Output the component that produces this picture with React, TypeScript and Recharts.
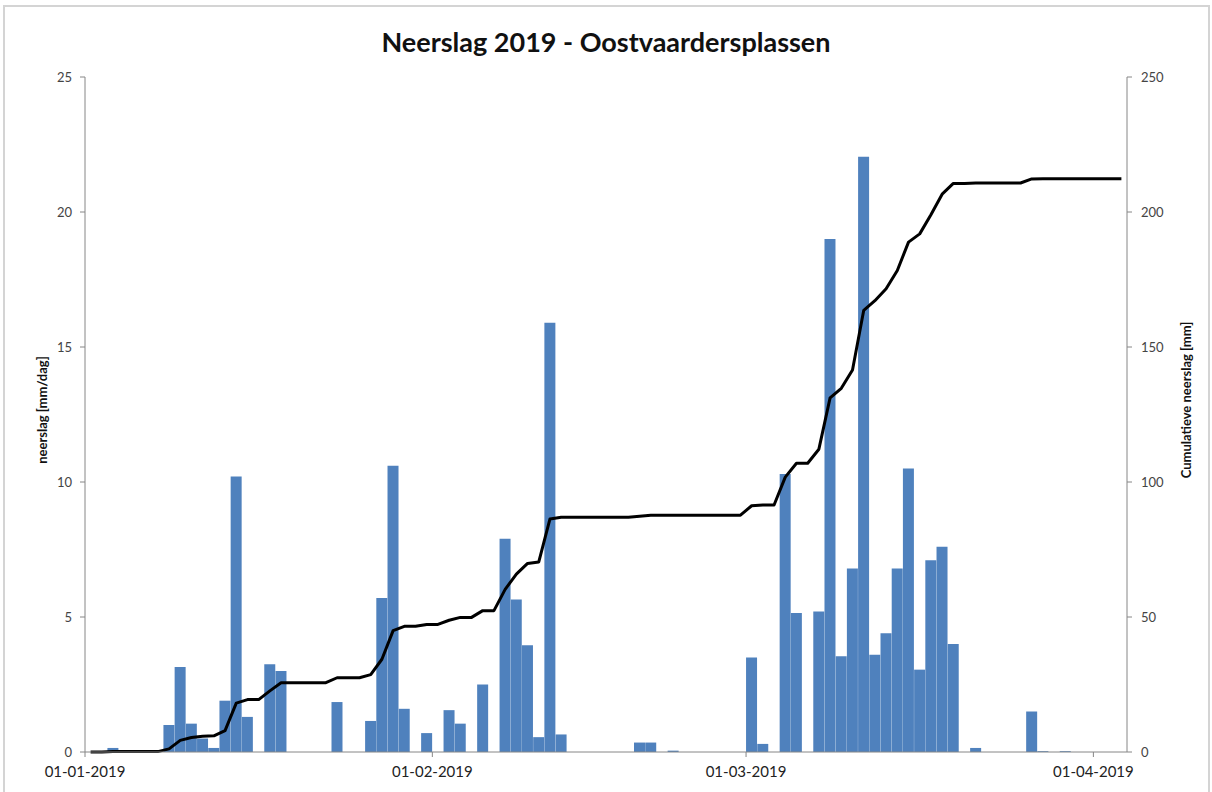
import React from "react";
import {
  ComposedChart,
  Bar,
  Line,
  XAxis,
  YAxis,
} from "recharts";

const dagNeerslag = [
  0, 0, 0.15, 0, 0, 0, 0, 1.0, 3.15, 1.05,
  0.5, 0.15, 1.9, 10.2, 1.3, 0, 3.25, 3.0, 0, 0,
  0, 0, 1.85, 0, 0, 1.15, 5.7, 10.6, 1.6, 0,
  0.7, 0, 1.55, 1.05, 0, 2.5, 0, 7.9, 5.65, 3.95,
  0.55, 15.9, 0.65, 0, 0, 0, 0, 0, 0, 0.35,
  0.35, 0, 0.05, 0, 0, 0, 0, 0, 0, 3.5,
  0.3, 0, 10.3, 5.15, 0, 5.2, 19.0, 3.55, 6.8, 22.05,
  3.6, 4.4, 6.8, 10.5, 3.05, 7.1, 7.6, 4.0, 0, 0.15,
  0, 0, 0, 0, 1.5, 0.03, 0, 0.03, 0, 0,
  0, 0, 0,
];

const cumNeerslag = [
  0, 0, 0.15, 0.15, 0.15, 0.15, 0.15, 1.15, 4.3, 5.35,
  5.85, 6.0, 7.9, 18.1, 19.4, 19.4, 22.65, 25.65, 25.65, 25.65,
  25.65, 25.65, 27.5, 27.5, 27.5, 28.65, 34.35, 44.95, 46.55, 46.55,
  47.25, 47.25, 48.8, 49.85, 49.85, 52.35, 52.35, 60.25, 65.9, 69.85,
  70.4, 86.3, 86.95, 86.95, 86.95, 86.95, 86.95, 86.95, 86.95, 87.3,
  87.65, 87.65, 87.7, 87.7, 87.7, 87.7, 87.7, 87.7, 87.7, 91.2,
  91.5, 91.5, 101.8, 106.95, 106.95, 112.15, 131.15, 134.7, 141.5, 163.55,
  167.15, 171.55, 178.35, 188.85, 191.9, 199.0, 206.6, 210.6, 210.6, 210.75,
  210.75, 210.75, 210.75, 210.75, 212.25, 212.28, 212.28, 212.31, 212.31, 212.31,
  212.31, 212.31, 212.31,
];

// dagnummer (vanaf 01-01-2019) van de labels op de x-as
const datumTicks = [0, 31, 59, 90];
const datumLabels = ["01-01-2019", "01-02-2019", "01-03-2019", "01-04-2019"];

const linksTicks = [0, 5, 10, 15, 20, 25];
const rechtsTicks = [0, 50, 100, 150, 200, 250];

// midden van elke dag op de as
const data = dagNeerslag.map((v, i) => ({
  dag: i + 0.5,
  neerslag: v,
  cumulatief: cumNeerslag[i],
}));

const font = "Lato, 'Open Sans', sans-serif";

export default function App() {
  return (
    <div
      style={{
        position: "absolute",
        left: 0,
        top: 0,
        width: 1212,
        height: 792,
        background: "#fff",
        overflow: "hidden",
        fontFamily: font,
      }}
    >
      <div
        style={{
          position: "absolute",
          left: 3,
          top: 5,
          width: 1203,
          height: 820,
          border: "2px solid #d4d4d4",
        }}
      />
      <div
        style={{
          position: "absolute",
          top: 25,
          left: 0,
          width: 1212,
          textAlign: "center",
          fontSize: 27,
          fontWeight: 700,
          color: "#111",
          letterSpacing: 0,
        }}
      >
        Neerslag 2019 - Oostvaardersplassen
      </div>
      <div
        style={{
          position: "absolute",
          left: 42,
          top: 410,
          transform: "translate(-50%, -50%) rotate(-90deg)",
          whiteSpace: "nowrap",
          fontSize: 13,
          fontWeight: 700,
          color: "#111",
        }}
      >
        neerslag [mm/dag]
      </div>
      <div
        style={{
          position: "absolute",
          left: 1186,
          top: 400,
          transform: "translate(-50%, -50%) rotate(-90deg)",
          whiteSpace: "nowrap",
          fontSize: 13,
          fontWeight: 700,
          color: "#111",
        }}
      >
        Cumulatieve neerslag [mm]
      </div>
      <div style={{ position: "absolute", left: 0, top: 0 }}>
        <ComposedChart
          width={1212}
          height={792}
          data={data}
          margin={{ top: 77, right: 0, bottom: 0, left: 0 }}
        >
          <XAxis
            dataKey="dag"
            type="number"
            domain={[0, 93]}
            ticks={datumTicks}
            tickFormatter={(v) => datumLabels[datumTicks.indexOf(v)] ?? ""}
            height={40}
            stroke="#868686"
            tickSize={5}
            tickMargin={9}
            tick={{ fill: "#222", fontSize: 15, fontFamily: font }}
            allowDataOverflow
          />
          <YAxis
            yAxisId="links"
            domain={[0, 25]}
            ticks={linksTicks}
            width={85}
            stroke="#868686"
            tickSize={5}
            tickMargin={8}
            tick={{ fill: "#444", fontSize: 13, fontFamily: font }}
          />
          <YAxis
            yAxisId="rechts"
            orientation="right"
            domain={[0, 250]}
            ticks={rechtsTicks}
            width={85}
            stroke="#868686"
            tickSize={5}
            tickMargin={9}
            tick={{ fill: "#444", fontSize: 13, fontFamily: font }}
          />
          <Bar
            yAxisId="links"
            dataKey="neerslag"
            fill="#4F81BD"
            barSize={11}
            isAnimationActive={false}
          />
          <Line
            yAxisId="rechts"
            dataKey="cumulatief"
            type="linear"
            stroke="#000"
            strokeWidth={3}
            strokeLinejoin="round"
            dot={false}
            activeDot={false}
            isAnimationActive={false}
          />
        </ComposedChart>
      </div>
    </div>
  );
}
